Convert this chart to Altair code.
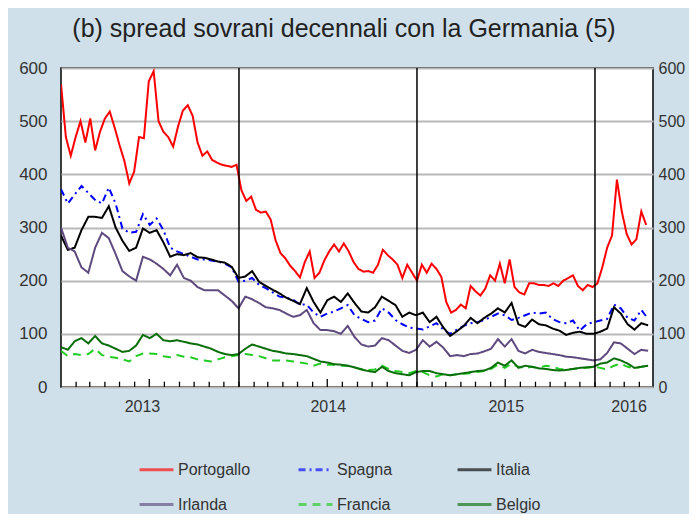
import altair as alt
import pandas as pd

FONT = "Liberation Sans"

# ---- data ----
series_names = ["Portogallo", "Spagna", "Italia", "Irlanda", "Francia", "Belgio"]
series_colors = ["#ff0000", "#0000ff", "#000000", "#5e4a7e", "#22cc22", "#0a6e0a"]
series_dash = [[1, 0], [7, 4, 2, 4], [1, 0], [1, 0], [8, 6], [1, 0]]

# Portogallo sampled every 10 days from 2013-01-01
portogallo = [
    570, 470, 435, 470, 500, 460, 505, 445, 480, 505,
    518, 488, 455, 425, 383, 405, 470, 468, 575, 594,
    500, 480, 470, 452, 490, 520, 530, 510, 460, 435,
    443, 427, 422, 418, 416, 414, 418, 370, 350, 358,
    333, 328, 330, 315, 276, 252, 242, 228, 218, 206,
    235, 255, 205, 215, 238, 255, 268, 255, 270, 255,
    235, 222, 217, 218, 215, 230, 258, 248, 240, 230,
    205, 230, 215, 200, 230, 215, 232, 222, 207, 160,
    140, 145, 155, 148, 190, 180, 172, 185, 210, 200,
    232, 195, 240, 188, 178, 174, 195, 195, 192, 192,
    190, 195, 190, 200, 205, 210, 190, 182, 192, 188,
    195, 225, 262, 285, 390, 330, 288, 268, 278, 330, 305,
]

# other series sampled every 14 days from 2013-01-01
spagna = [
    372, 345, 362, 378, 365, 352, 345, 375, 345, 298,
    290, 292, 325, 305, 317, 295, 262, 255, 250, 245,
    240, 240, 238, 236, 232, 225, 198, 200, 205, 192,
    186, 178, 170, 168, 164, 155, 155, 140, 132, 138,
    142, 148, 154, 135, 128, 122, 125, 148, 140, 126,
    118, 112, 110, 108, 114, 120, 108, 100, 108, 115,
    120, 122, 126, 132, 138, 135, 126, 130, 135, 140,
    138, 140, 128, 122, 120, 125, 106, 118, 122, 125,
    128, 155, 148, 130, 125, 145, 128,
]
italia = [
    285, 258, 262, 295, 320, 320, 318, 340, 300, 275,
    256, 262, 298, 290, 295, 272, 245, 250, 248, 252,
    244, 243, 240, 236, 234, 226, 205, 208, 218, 198,
    190, 183, 176, 168, 162, 156, 186, 160, 140, 163,
    170, 160, 176, 158, 142, 140, 150, 170, 162, 154,
    132, 140, 135, 140, 122, 132, 112, 96, 105, 115,
    130, 120, 130, 138, 148, 140, 158, 118, 113, 127,
    118, 116, 110, 106, 98, 102, 104, 100, 100, 104,
    110, 150, 138, 118, 108, 120, 116,
]
irlanda = [
    300, 262, 255, 225, 215, 262, 290, 280, 250, 218,
    208, 200, 245, 240, 232, 222, 210, 230, 205, 200,
    188, 182, 182, 182, 172, 162, 148, 170, 165, 158,
    150, 148, 145, 138, 132, 135, 145, 120, 107, 107,
    105, 100, 115, 94, 80, 76, 78, 92, 88, 78,
    68, 64, 70, 88, 76, 85, 74, 58, 60, 58,
    62, 63, 67, 72, 90, 76, 90, 68, 63, 70,
    66, 64, 62, 60, 57, 56, 54, 52, 50, 52,
    64, 84, 82, 72, 62, 70, 68,
]
francia = [
    68, 58, 62, 60, 62, 72, 60, 57, 55, 52,
    48, 58, 63, 63, 62, 58, 56, 60, 57, 56,
    52, 50, 48, 52, 56, 58, 60, 62, 60, 58,
    54, 50, 50, 50, 48, 46, 44, 40, 44, 42,
    42, 40, 40, 36, 34, 32, 33, 40, 34, 30,
    28, 26, 30, 28, 22, 20, 24, 22, 24, 25,
    26, 28, 30, 34, 42, 36, 44, 38, 36, 38,
    36, 40, 38, 34, 33, 34, 35, 36, 38, 36,
    33, 40, 44, 38, 35, 38, 40,
]
belgio = [
    75, 70, 86, 92, 82, 96, 82, 78, 72, 66,
    68, 78, 98, 92, 100, 88, 86, 88, 85, 82,
    80, 76, 72, 66, 62, 60, 62, 72, 80, 76,
    72, 68, 66, 63, 62, 60, 58, 53, 48, 46,
    43, 42, 40, 37, 33, 30, 28, 38, 30, 26,
    24, 22, 28, 30, 30, 26, 24, 22, 24, 26,
    28, 30, 31, 36, 46, 40, 50, 36, 40, 38,
    35, 34, 32, 31, 32, 34, 36, 37, 38, 44,
    46, 54, 50, 44, 36, 38, 40,
]

year_lines = ["2014-01-01", "2015-01-01", "2016-01-01"]
tick_labels = ["2013", "2014", "2015", "2016"]

# ---- build long table ----
d10 = pd.date_range("2013-01-01", periods=len(portogallo), freq="10D")
d14 = pd.date_range("2013-01-01", periods=len(spagna), freq="14D")
frames = [pd.DataFrame({"date": d10, "value": portogallo, "serie": "Portogallo"})]
for name, vals in [("Spagna", spagna), ("Italia", italia), ("Irlanda", irlanda),
                   ("Francia", francia), ("Belgio", belgio)]:
    frames.append(pd.DataFrame({"date": d14[:len(vals)], "value": vals, "serie": name}))
df = pd.concat(frames, ignore_index=True)
df["date"] = df["date"].dt.strftime("%Y-%m-%d")
order_map = {n: i for i, n in enumerate(series_names)}
df["ord"] = df["serie"].map(order_map)

months = pd.date_range("2013-02-01", "2016-04-01", freq="MS")
ticks_df = pd.DataFrame({
    "date": months.strftime("%Y-%m-%d"),
    "y0": 0,
    "y1": [15 if m.month == 7 else 10 for m in months],
})
years_df = pd.DataFrame({"date": year_lines})

xdomain = [alt.DateTime(year=2013, month=1, date=1), alt.DateTime(year=2016, month=4, date=29)]
xscale = alt.Scale(domain=xdomain)
yscale = alt.Scale(domain=[0, 600], nice=False)

label_vals = [
    alt.DateTime(year=2013, month=6, date=16),
    alt.DateTime(year=2014, month=7, date=2),
    alt.DateTime(year=2015, month=7, date=2),
    alt.DateTime(year=2016, month=3, date=10),
]

lines = alt.Chart(df).mark_line(strokeWidth=2, clip=True).encode(
    x=alt.X("date:T", scale=xscale, title=None,
            axis=alt.Axis(values=label_vals, format="%Y", tickSize=0, domain=False,
                          grid=False, labelPadding=11, labelFontSize=16)),
    y=alt.Y("value:Q", scale=yscale, title=None,
            axis=alt.Axis(values=[0, 100, 200, 300, 400, 500, 600], tickSize=0,
                          domain=False, grid=True, gridColor="#b9b9b9", gridWidth=2,
                          labelPadding=14, labelFontSize=17)),
    color=alt.Color("serie:N", scale=alt.Scale(domain=series_names, range=series_colors),
                    title=None,
                    legend=alt.Legend(orient="none", legendX=77, legendY=383, columns=3,
                                      direction="horizontal",
                                      gridAlign="all", columnPadding=41, rowPadding=8,
                                      symbolType="stroke", symbolSize=1150,
                                      symbolStrokeWidth=3, symbolOpacity=0.65,
                                      labelFontSize=16, labelFont=FONT, labelColor="#333",
                                      labelOffset=3)),
    strokeDash=alt.StrokeDash("serie:N", scale=alt.Scale(domain=series_names, range=series_dash),
                              legend=None),
    order=alt.Order("ord:Q"),
    detail="serie:N",
)

vlines = alt.Chart(years_df).mark_rule(color="black", strokeWidth=1.5).encode(
    x=alt.X("date:T", scale=xscale),
)

mticks = alt.Chart(ticks_df).mark_rule(color="black", strokeWidth=1.3).encode(
    x=alt.X("date:T", scale=xscale),
    y=alt.Y("y0:Q", scale=yscale,
            axis=alt.Axis(orient="right", values=[0, 100, 200, 300, 400, 500, 600],
                          tickSize=0, domain=False, grid=False, labelPadding=5,
                          labelFontSize=16)),
    y2="y1:Q",
)

chart = alt.layer(lines, vlines, mticks).resolve_axis(y="independent").properties(
    width=592,
    height=319,
    autosize=alt.AutoSizeParams(type="none"),
    padding={"left": 53, "top": 60, "right": 36, "bottom": 127},
    background="#cfe0ea",
    title=alt.TitleParams(text="(b) spread sovrani decennali con la Germania (5)",
                          fontSize=25, font=FONT, fontWeight="normal", color="#222",
                          anchor="middle", dx=-13, offset=17),
).configure_view(
    fill="white", stroke="black", strokeWidth=1.5,
).configure_axis(
    labelFont=FONT, labelColor="#333",
)

chart.save("out.html", embed_options={"renderer": "svg", "actions": False})
